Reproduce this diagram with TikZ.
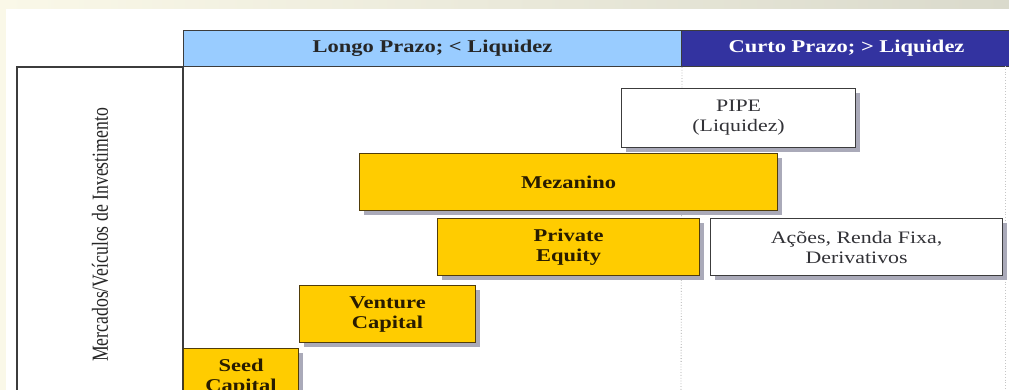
\documentclass[tikz,border=0pt]{standalone}
\usepackage{fontspec}
\setmainfont{Liberation Serif}
\newfontfamily\wf[FakeStretch=1.25]{Liberation Serif}
\newfontfamily\vf[FakeStretch=0.77]{Liberation Serif}
\usetikzlibrary{shadows}
\definecolor{lblue}{RGB}{153,204,255}
\definecolor{dblue}{RGB}{51,51,160}
\definecolor{gold}{RGB}{255,204,0}
\definecolor{shadowc}{RGB}{170,170,185}
\definecolor{edge}{RGB}{60,60,60}
\definecolor{yedge}{RGB}{80,60,10}
\definecolor{btext}{RGB}{40,28,0}
\definecolor{gtext}{RGB}{50,50,55}
\definecolor{creamL}{RGB}{250,248,232}
\definecolor{creamR}{RGB}{218,218,204}
\begin{document}
\begin{tikzpicture}[x=1pt,y=-1pt,
  box/.style={draw=edge, line width=1.2pt, inner sep=0pt, anchor=north west, align=center,
    drop shadow={shadow xshift=4pt, shadow yshift=-4pt, fill=shadowc, opacity=1}},
  ybox/.style={box, fill=gold, draw=yedge, text=btext, font={\wf\bfseries\fontsize{18}{20}\selectfont}},
  wbox/.style={box, fill=white, text=gtext, font={\wf\fontsize{17.5}{20}\selectfont}},
  hdr/.style={draw=edge, line width=1pt, inner sep=0pt, anchor=north west, minimum height=36pt,
    font={\wf\bfseries\fontsize{18}{20}\selectfont}},
  frame/.style={draw=edge, line width=1.3pt},
  guide/.style={draw=gray!70, line width=0.8pt, dotted}]
\useasboundingbox (0,0) rectangle (1009,390);
\clip (0,0) rectangle (1009,390);
\fill[white] (0,0) rectangle (1009,390);
\shade[left color=creamL, right color=creamR] (0,0) rectangle (1009,9);
\fill[creamL] (0,9) rectangle (6,390);
% header
\node[hdr, fill=lblue, text=black!85, minimum width=498pt] (h1) at (183,30) {Longo Prazo; < Liquidez};
\node[hdr, fill=dblue, text=white, minimum width=330pt] (h2) at (681,30) {Curto Prazo; > Liquidez};
% frame
\coordinate (fl) at (17,392);
\coordinate (fr) at (183,392);
\draw[frame] (fl) |- (h1.south west) -- (fr);
\coordinate (d1) at (681,392);
\coordinate (d2) at (1005,392);
\draw[guide] (h1.south east) -- (d1);
\draw[guide, draw=gray!45] (1005,66) -- (d2);
% label
\node[rotate=90, text=black!85, font={\vf\fontsize{23}{23}\selectfont}] (lbl) at (100,235) {Mercados/Veículos de Investimento};
% boxes
\node[wbox, minimum width=234pt, minimum height=59pt] (pipe) at (621,88) {PIPE\\(Liquidez)};
\node[ybox, minimum width=418pt, minimum height=57pt] (mez) at (359,153) {Mezanino};
\node[ybox, minimum width=262pt, minimum height=57pt] (pe) at (437,218) {Private\\Equity};
\node[wbox, minimum width=292pt, minimum height=57pt] (acoes) at (710,218) {Ações, Renda Fixa,\\Derivativos};
\node[ybox, minimum width=176pt, minimum height=57pt] (vc) at (299,285) {Venture\\Capital};
\node[ybox, minimum width=115pt, minimum height=57pt] (seed) at (183,348) {Seed\\Capital};
\end{tikzpicture}
\end{document}
